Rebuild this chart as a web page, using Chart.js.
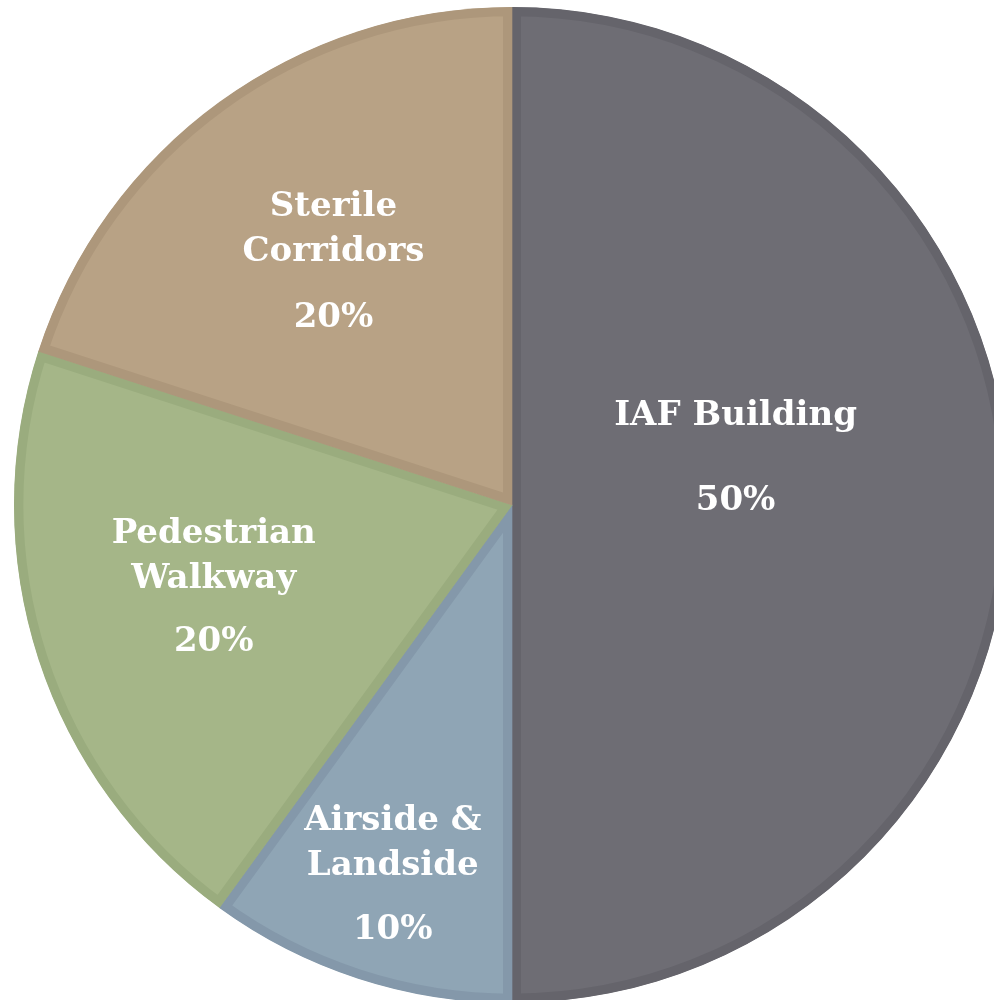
<!DOCTYPE html>
<html>
<head>
<meta charset="utf-8">
<title>Area Split</title>
<script src="https://cdn.jsdelivr.net/npm/chart.js@4.4.1/dist/chart.umd.min.js"></script>
<style>
  html, body { margin: 0; padding: 0; background: #ffffff; overflow: hidden; }
  #pie-wrap { position: absolute; left: 0; top: 0; width: 1024px; height: 1010px; }
</style>
</head>
<body>
<div id="pie-wrap"><canvas id="area-chart"></canvas></div>
<script>
// chart data
const areaNames = [['IAF Building'], ['Airside &', 'Landside'], ['Pedestrian', 'Walkway'], ['Sterile', 'Corridors']];
const areaShares = [50, 10, 20, 20];

// slice colours (fill + darker bevel edge)
const fillColors = ['#6e6d74', '#8fa5b5', '#a5b688', '#b8a285'];
const edgeColors = ['#65646b', '#8498aa', '#9aac7e', '#ad977b'];

// where each label sits: fraction of radius, angle nudge (deg), gap before percent
const labelSpots = [
  { r: 0.46, turn: -12.6, gap: 85 },
  { r: 0.775, turn: 0, gap: 64 },
  { r: 0.62, turn: 3, gap: 63 },
  { r: 0.61, turn: 0, gap: 66 },
];

// draw the labels on the slices
const sliceLabels = {
  id: 'sliceLabels',
  afterDatasetsDraw(chart) {
    const ctx = chart.ctx;
    const meta = chart.getDatasetMeta(0);
    ctx.save();
    ctx.fillStyle = '#ffffff';
    ctx.textAlign = 'center';
    ctx.textBaseline = 'alphabetic';
    ctx.font = 'bold 34px "DejaVu Serif"';
    meta.data.forEach((arc, i) => {
      const p = arc.getProps(['x', 'y', 'startAngle', 'endAngle', 'outerRadius'], true);
      const spot = labelSpots[i];
      const mid = (p.startAngle + p.endAngle) / 2 + spot.turn * Math.PI / 180;
      const d = p.outerRadius * spot.r;
      const cx = p.x + Math.cos(mid) * d;
      const cy = p.y + Math.sin(mid) * d;
      const lines = areaNames[i];
      const lineGap = 45;
      const blockH = (lines.length - 1) * lineGap + spot.gap;
      let y = cy - blockH / 2 + 12;
      lines.forEach((txt) => {
        ctx.fillText(txt, cx, y);
        y += lineGap;
      });
      y += spot.gap - lineGap;
      ctx.fillText(areaShares[i] + '%', cx, y);
    });
    ctx.restore();
  }
};

const chart = new Chart(document.getElementById('area-chart'), {
  type: 'pie',
  data: {
    labels: areaNames.map(n => n.join(' ')),
    datasets: [{
      data: areaShares,
      backgroundColor: fillColors,
      borderColor: edgeColors,
      borderWidth: 9,
      borderAlign: 'inner',
    }],
  },
  options: {
    responsive: true,
    maintainAspectRatio: false,
    animation: false,
    events: [],
    layout: { padding: 7 },
    plugins: {
      legend: { display: false },
      tooltip: { enabled: false },
    },
  },
  plugins: [sliceLabels],
});
</script>
</body>
</html>
